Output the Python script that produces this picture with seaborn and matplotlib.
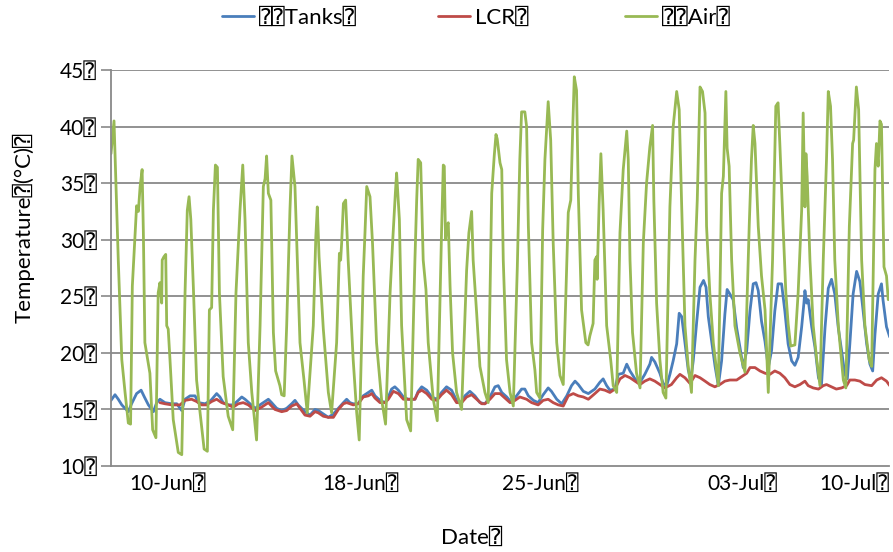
import numpy as np
import pandas as pd
import matplotlib
matplotlib.use("Agg")
import matplotlib.pyplot as plt
from matplotlib.lines import Line2D
import seaborn as sns

# ---------------- data ----------------
# time in days from the start of the record (left edge of the plot)
air_day = [0.00, 0.12, 0.23, 0.29, 0.43, 0.56, 0.69, 0.78, 0.85, 0.96, 1.02, 1.09, 1.16, 1.24, 1.29, 1.35,
           1.55, 1.66, 1.79, 1.88, 1.95, 2.02, 2.04, 2.11, 2.18, 2.22, 2.28, 2.35, 2.48, 2.68, 2.82, 2.95,
           3.04, 3.11, 3.18, 3.28, 3.41, 3.55, 3.71, 3.84, 3.92, 4.01, 4.08, 4.16, 4.24, 4.32, 4.47, 4.67,
           4.85, 4.98, 5.14, 5.25, 5.34, 5.47, 5.61, 5.80, 5.94, 6.07, 6.14, 6.20, 6.27, 6.37, 6.47, 6.56,
           6.73, 6.80, 6.90, 7.00, 7.13, 7.21, 7.33, 7.53, 7.69, 7.82, 8.06, 8.16, 8.22, 8.29, 8.46, 8.66,
           8.79, 8.99, 9.10, 9.15, 9.19, 9.26, 9.35, 9.45, 9.65, 9.79, 9.89, 10.05, 10.12, 10.19, 10.32,
           10.42, 10.58, 10.78, 10.94, 11.12, 11.22, 11.33, 11.38, 11.49, 11.58, 11.78, 11.94, 12.11, 12.18,
           12.24, 12.34, 12.44, 12.55, 12.64, 12.84, 13.00, 13.17, 13.24, 13.28, 13.33, 13.37, 13.44, 13.51,
           13.61, 13.77, 13.97, 14.17, 14.26, 14.37, 14.43, 14.57, 14.70, 14.90, 15.03, 15.17, 15.27, 15.34,
           15.39, 15.50, 15.57, 15.63, 15.76, 15.90, 16.03, 16.19, 16.29, 16.36, 16.49, 16.56, 16.63, 16.76,
           16.89, 16.96, 17.09, 17.20, 17.29, 17.42, 17.52, 17.62, 17.76, 17.89, 18.02, 18.22, 18.32, 18.40,
           18.46, 18.55, 18.62, 18.75, 18.92, 19.01, 19.08, 19.21, 19.28, 19.35, 19.37, 19.45, 19.52, 19.61,
           19.75, 19.91, 20.01, 20.15, 20.28, 20.41, 20.55, 20.61, 20.68, 20.78, 20.94, 21.08, 21.21, 21.34,
           21.47, 21.58, 21.63, 21.74, 21.87, 22.00, 22.11, 22.27, 22.40, 22.54, 22.64, 22.74, 22.87, 23.00,
           23.13, 23.27, 23.36, 23.47, 23.57, 23.67, 23.73, 23.86, 24.00, 24.20, 24.33, 24.40, 24.46, 24.50,
           24.55, 24.63, 24.73, 24.86, 25.06, 25.26, 25.43, 25.52, 25.59, 25.66, 25.79, 25.92, 26.06, 26.19,
           26.36, 26.49, 26.58, 26.65, 26.78, 26.89, 26.98, 27.08, 27.25, 27.38, 27.52, 27.58, 27.65, 27.69,
           27.74, 27.85, 27.98, 28.12, 28.25, 28.38, 28.51, 28.58, 28.67, 28.75, 28.84, 28.98, 29.18, 29.28,
           29.42, 29.55, 29.59, 29.70, 29.79, 29.91, 30.04, 30.21, 30.31, 30.44, 30.50, 30.57, 30.64, 30.70,
           30.80, 30.90, 30.97]
air_temp = [37.6, 40.5, 32.4, 28.2, 19.4, 16.5, 13.8, 13.7, 25.9, 30.6, 33.0, 32.5, 34.7, 36.2, 30.6, 20.9,
            18.2, 13.2, 12.5, 25.3, 26.2, 24.4, 28.2, 28.5, 28.7, 22.4, 22.1, 19.4, 14.1, 11.2, 11.0, 25.3,
            32.6, 33.8, 31.8, 25.9, 17.6, 14.7, 11.5, 11.3, 23.8, 24.0, 32.6, 36.6, 36.4, 25.3, 17.9, 14.4,
            13.2, 25.3, 32.6, 36.6, 31.8, 20.9, 16.5, 12.3, 22.4, 34.7, 35.4, 37.4, 34.1, 33.5, 21.8, 18.4,
            17.1, 16.3, 16.2, 22.4, 32.6, 37.4, 34.7, 20.9, 17.6, 14.7, 22.4, 30.2, 32.9, 28.5, 22.1, 16.5,
            14.7, 20.9, 28.8, 28.2, 29.7, 33.2, 33.5, 28.2, 19.4, 14.7, 12.3, 26.8, 30.6, 34.7, 33.8,
            29.7, 20.9, 15.9, 13.7, 25.3, 29.7, 34.1, 35.9, 31.8, 22.4, 14.1, 13.1, 28.2, 33.5,
            37.1, 36.8, 28.2, 25.6, 20.9, 15.9, 14.0, 30.6, 36.6, 36.5, 30.0, 31.2, 31.5, 25.9,
            20.0, 16.5, 15.0, 27.3, 30.6, 32.5, 28.2, 23.5, 18.8, 16.5, 15.6, 34.1, 37.4, 39.3,
            38.9, 36.8, 36.2, 28.2, 19.4, 16.5, 15.3, 27.6, 37.1, 41.3, 41.3, 40.0, 31.2, 20.9,
            18.5, 16.5, 16.0, 30.9, 37.1, 42.2, 38.8, 29.7, 20.9, 18.0, 17.2, 32.4, 33.5, 40.0,
            44.4, 43.2, 34.1, 23.8, 20.9, 20.7, 21.5, 22.6, 28.2, 28.5, 26.5, 33.2, 37.6, 32.6,
            22.4, 19.4, 17.1, 16.5, 30.6, 36.2, 39.6, 37.1, 28.2, 21.8, 18.2, 16.9, 29.7, 35.0,
            38.2, 40.1, 33.5, 24.4, 19.4, 16.5, 16.0, 32.9, 40.0, 43.1, 41.5, 32.9, 22.4, 18.8,
            16.5, 28.2, 33.5, 43.5, 43.1, 41.2, 31.2, 25.3, 20.9, 17.1, 34.1, 35.6, 40.0, 43.1,
            38.1, 36.5, 28.2, 22.4, 20.0, 18.3, 31.2, 37.1, 40.1, 38.5, 31.2, 26.8, 23.8, 16.5,
            28.2, 41.8, 42.1, 38.5, 31.2, 25.3, 22.6, 20.6, 20.7, 25.3, 32.6, 41.2, 32.9, 37.6,
            35.6, 28.2, 22.4, 19.4, 17.1, 28.2, 37.1, 43.1, 41.8, 37.1, 28.2, 22.4, 17.6, 16.9,
            31.2, 38.5, 38.8, 43.5, 41.5, 28.2, 22.4, 19.4, 18.8, 36.2, 38.5, 36.5, 40.5, 40.2,
            27.6, 26.8, 24.7]

tanks_day = [0.00, 0.16, 0.29, 0.43, 0.56, 0.69, 0.82, 1.02, 1.20, 1.33, 1.49, 1.69, 1.82, 1.95, 2.15, 2.42,
             2.62, 2.82, 2.95, 3.15, 3.35, 3.48, 3.75, 3.98, 4.21, 4.34, 4.47, 4.67, 4.87, 5.07, 5.21, 5.34,
             5.54, 5.74, 6.00, 6.27, 6.40, 6.60, 6.80, 7.00, 7.20, 7.33, 7.46, 7.73, 7.93, 8.13, 8.26, 8.46,
             8.66, 8.86, 9.06, 9.26, 9.39, 9.52, 9.65, 9.85, 10.05, 10.25, 10.39, 10.52, 10.72, 10.92, 11.05,
             11.18, 11.31, 11.45, 11.65, 11.84, 12.11, 12.24, 12.38, 12.58, 12.78, 12.98, 13.17, 13.37, 13.57,
             13.77, 13.97, 14.10, 14.30, 14.50, 14.70, 14.90, 15.10, 15.30, 15.43, 15.57, 15.77, 15.96, 16.16,
             16.36, 16.49, 16.63, 16.83, 17.02, 17.22, 17.42, 17.55, 17.76, 17.96, 18.16, 18.35, 18.49, 18.62,
             18.82, 19.02, 19.28, 19.48, 19.61, 19.75, 19.88, 20.08, 20.21, 20.41, 20.55, 20.68, 20.88, 21.08,
             21.27, 21.47, 21.54, 21.67, 21.87, 22.00, 22.14, 22.27, 22.40, 22.54, 22.64, 22.74, 22.87, 23.00,
             23.10, 23.20, 23.34, 23.47, 23.61, 23.71, 23.80, 23.94, 24.07, 24.20, 24.33, 24.46, 24.55, 24.66,
             24.79, 24.93, 25.06, 25.19, 25.33, 25.46, 25.59, 25.70, 25.79, 25.92, 26.06, 26.19, 26.32, 26.45,
             26.58, 26.72, 26.85, 26.98, 27.12, 27.25, 27.38, 27.52, 27.61, 27.65, 27.72, 27.78, 27.92, 28.05,
             28.19, 28.31, 28.45, 28.58, 28.71, 28.84, 28.98, 29.11, 29.24, 29.34, 29.44, 29.57, 29.71, 29.84,
             29.97, 30.11, 30.24, 30.35, 30.44, 30.57, 30.70, 30.76, 30.90, 31.03]
tanks_temp = [15.8, 16.3, 15.9, 15.4, 15.1, 14.8, 15.5, 16.4, 16.7, 16.1, 15.4, 14.8, 15.6, 15.9, 15.6, 15.5,
              15.5, 14.9, 15.9, 16.2, 16.2, 15.6, 15.5, 15.8, 16.4, 16.1, 15.6, 15.4, 15.4, 15.8, 16.1, 15.9,
              15.5, 15.1, 15.5, 15.9, 15.6, 15.1, 14.9, 15.1, 15.5, 15.8, 15.4, 14.8, 14.5, 15.0, 14.9, 14.6,
              14.3, 14.6, 15.1, 15.6, 15.9, 15.6, 15.5, 15.5, 16.2, 16.5, 16.7, 16.2, 15.8, 15.6, 16.1,
              16.8, 17.0, 16.7, 16.1, 15.9, 15.9, 16.6, 17.0, 16.7, 16.1, 15.9, 16.5, 17.0, 16.7,
              15.8, 15.6, 16.2, 16.6, 16.2, 15.6, 15.5, 16.1, 17.0, 17.1, 16.5, 16.1, 15.6, 16.2,
              16.8, 16.8, 16.2, 15.8, 15.6, 16.3, 16.9, 16.6, 15.9, 15.5, 16.2, 17.1, 17.5, 17.2,
              16.6, 16.4, 16.8, 17.4, 17.7, 17.1, 16.7, 16.8, 18.1, 18.2, 19.0, 18.4, 17.7, 17.4,
              18.1, 19.0, 19.6, 19.2, 18.2, 17.3, 17.1, 18.1, 19.3, 20.8, 23.5, 23.2, 20.9, 18.5,
              17.6, 19.3, 22.8, 25.8, 26.4, 25.8, 23.2, 20.9, 18.8, 17.1, 19.3, 23.4, 25.6, 25.2,
              24.7, 22.2, 20.5, 18.7, 20.2, 23.7, 26.1, 26.2, 25.5, 22.8, 21.0, 18.7, 20.2, 23.7,
              26.1, 26.1, 23.7, 20.8, 19.3, 18.9, 19.6, 22.3, 24.4, 25.5, 24.4, 24.7, 22.3, 20.5,
              17.8, 17.2, 22.2, 25.7, 26.5, 25.2, 22.2, 20.2, 18.1, 17.7, 20.8, 25.2, 27.2, 26.3,
              23.7, 20.8, 19.0, 18.4, 21.6, 25.2, 26.1, 24.7, 22.3, 21.4]

lcr_day = [1.95, 2.15, 2.42, 2.75, 2.95, 3.21, 3.41, 3.61, 3.81, 4.01, 4.21, 4.41, 4.67, 4.87, 5.07, 5.27,
           5.47, 5.74, 6.00, 6.27, 6.53, 6.80, 7.00, 7.20, 7.40, 7.60, 7.73, 7.93, 8.13, 8.26, 8.46, 8.66,
           8.86, 9.06, 9.26, 9.39, 9.52, 9.65, 9.85, 10.05, 10.25, 10.39, 10.52, 10.72, 10.92, 11.05, 11.25,
           11.45, 11.65, 11.84, 12.11, 12.24, 12.38, 12.58, 12.78, 12.98, 13.17, 13.37, 13.57, 13.77, 13.97,
           14.17, 14.37, 14.57, 14.77, 14.90, 15.10, 15.30, 15.50, 15.70, 15.90, 16.10, 16.29, 16.56, 16.76,
           17.02, 17.22, 17.42, 17.62, 17.82, 18.02, 18.22, 18.42, 18.62, 18.82, 19.02, 19.28, 19.48, 19.68,
           19.88, 20.08, 20.28, 20.48, 20.68, 20.88, 21.08, 21.27, 21.47, 21.67, 21.87, 22.07, 22.33, 22.54,
           22.67, 22.87, 23.07, 23.27, 23.47, 23.67, 23.86, 24.06, 24.26, 24.46, 24.66, 24.93, 25.13, 25.33,
           25.46, 25.66, 25.86, 26.06, 26.25, 26.45, 26.65, 26.85, 27.05, 27.25, 27.45, 27.65, 27.78, 27.98,
           28.19, 28.38, 28.51, 28.71, 28.90, 29.11, 29.31, 29.44, 29.64, 29.84, 30.04, 30.31, 30.51, 30.70,
           30.90, 31.03]
lcr_temp = [15.6, 15.5, 15.4, 15.4, 15.8, 15.9, 15.7, 15.4, 15.4, 15.7, 15.9, 15.6, 15.4, 15.2, 15.5, 15.6,
            15.4, 14.9, 15.2, 15.6, 15.0, 14.8, 14.9, 15.3, 15.5, 14.9, 14.5, 14.4, 14.8, 14.7, 14.4, 14.3,
            14.3, 15.0, 15.5, 15.6, 15.5, 15.4, 15.5, 16.1, 16.2, 16.4, 16.0, 15.6, 15.6, 15.9, 16.6,
            16.4, 15.9, 15.9, 15.9, 16.5, 16.7, 16.4, 15.9, 15.8, 16.3, 16.7, 16.3, 15.6, 15.6,
            16.1, 16.3, 15.9, 15.5, 15.5, 15.9, 16.4, 16.4, 16.0, 15.6, 15.8, 16.1, 15.9, 15.6,
            15.4, 15.8, 15.9, 15.6, 15.4, 15.3, 16.2, 16.4, 16.2, 16.1, 15.9, 16.4, 16.8, 16.7,
            16.5, 16.8, 17.7, 18.0, 17.8, 17.5, 17.2, 17.5, 17.7, 17.5, 17.2, 16.9, 17.2, 17.8,
            18.1, 17.8, 17.3, 18.0, 17.8, 17.5, 17.2, 17.0, 17.2, 17.5, 17.6, 17.6, 17.9, 18.2,
            18.7, 18.7, 18.4, 18.2, 18.1, 18.4, 18.2, 17.8, 17.2, 17.0, 17.2, 17.5, 17.1, 16.9,
            16.8, 17.1, 17.2, 17.0, 16.8, 16.9, 17.1, 17.6, 17.6, 17.5, 17.2, 17.1, 17.6, 17.8,
            17.5, 17.1]

series_names = ["\u2370\u2370Tanks\u2370", "LCR\u2370", "\u2370\u2370Air\u2370"]
series_colors = ["#4A7EBB", "#BE4B48", "#98B954"]

y_ticks = [10, 15, 20, 25, 30, 35, 40, 45]
y_tick_labels = ["10\u2370", "15\u2370", "20\u2370", "25\u2370", "30\u2370", "35\u2370", "40\u2370", "45\u2370"]
x_tick_labels = ["10-Jun\u2370", "18-Jun\u2370", "25-Jun\u2370", "03-Jul\u2370", "10-Jul\u2370"]
x_tick_pos = [2.27, 9.92, 17.09, 25.14, 29.62]

x_title = "Date\u2370"
y_title = "Temperature\u2370(\u00b0C)\u2370"

# ---------------- build long table ----------------
df = pd.concat([
    pd.DataFrame({"day": tanks_day, "temp": tanks_temp, "series": series_names[0]}),
    pd.DataFrame({"day": lcr_day, "temp": lcr_temp, "series": series_names[1]}),
    pd.DataFrame({"day": air_day, "temp": air_temp, "series": series_names[2]}),
], ignore_index=True)

sns.set_theme(style="white")
plt.rcParams["font.family"] = ["Lato", "DejaVu Sans", "DejaVu Sans Mono"]

W, H = 893, 552
fig = plt.figure(figsize=(W / 100, H / 100), dpi=100)
ax = fig.add_axes([111 / W, 1 - 466 / H, (889 - 111) / W, (466 - 70) / H])

grid_c = "#898989"
for v in y_ticks[1:]:
    ax.axhline(v, color=grid_c, lw=1.3, zorder=0.5)

sns.lineplot(data=df, x="day", y="temp", hue="series", hue_order=series_names,
             palette=series_colors, estimator=None, sort=False, linewidth=2.0,
             legend=False, ax=ax)

ax.set_xlim(0, 31.0)
ax.set_ylim(10, 45)
ax.set_yticks(y_ticks)
ax.set_yticklabels(y_tick_labels, fontsize=15, color="black")
ax.set_xticks(x_tick_pos)
ax.set_xticklabels(x_tick_labels, fontsize=15, color="black")
ax.tick_params(axis="y", which="major", direction="out", length=7, width=1.2, color=grid_c, pad=3, left=True)
ax.tick_params(axis="x", which="major", length=0, pad=6)

for s in ["top", "right"]:
    ax.spines[s].set_visible(False)
ax.spines["left"].set_color(grid_c)
ax.spines["bottom"].set_color(grid_c)
ax.spines["left"].set_linewidth(1.3)
ax.spines["bottom"].set_linewidth(1.3)

ax.set_xlabel(x_title, fontsize=16, color="black", va="center")
ax.xaxis.set_label_coords((472 - 111) / 778, -(538 - 466) / 396)
ax.set_ylabel(y_title, fontsize=16, color="black", va="center")
ax.yaxis.set_label_coords((24 - 111) / 778, (466 - 228) / 396)

# legend: three entries across the top
leg_x = [222, 438, 625]
for name, col, lx in zip(series_names, series_colors, leg_x):
    h = Line2D([], [], color=col, lw=2.0)
    lg = fig.legend([h], [name], loc="center left", bbox_to_anchor=(lx / W, 1 - 18 / H),
                    frameon=False, fontsize=16, handlelength=1.45, handletextpad=0.22,
                    borderpad=0, borderaxespad=0)
    for t in lg.get_texts():
        t.set_color("black")

fig.savefig("out.png", dpi=100)
